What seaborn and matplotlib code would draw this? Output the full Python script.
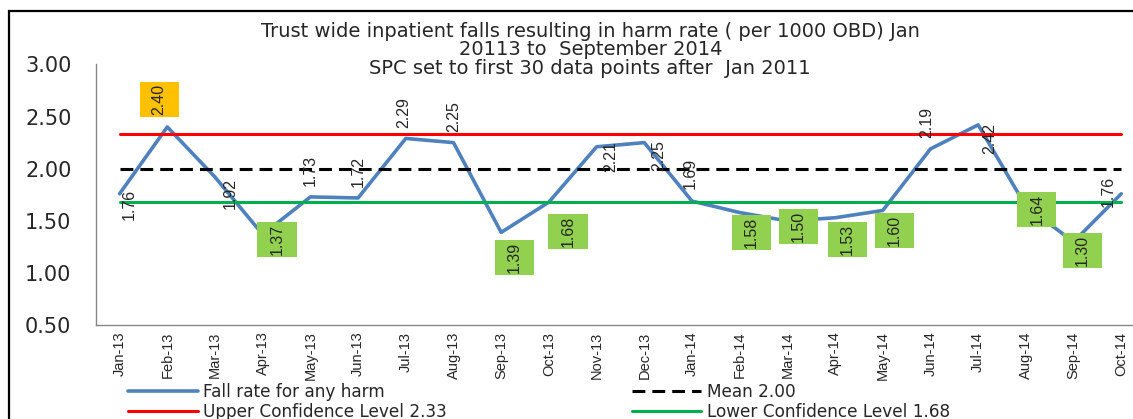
import numpy as np
import pandas as pd
import matplotlib.pyplot as plt
from matplotlib.patches import Rectangle
from matplotlib import font_manager
import seaborn as sns


# Chart data
months = ['Jan-13', 'Feb-13', 'Mar-13', 'Apr-13', 'May-13', 'Jun-13',
          'Jul-13', 'Aug-13', 'Sep-13', 'Oct-13', 'Nov-13', 'Dec-13',
          'Jan-14', 'Feb-14', 'Mar-14', 'Apr-14', 'May-14', 'Jun-14',
          'Jul-14', 'Aug-14', 'Sep-14', 'Oct-14']
fall_rate = [1.76, 2.40, 1.92, 1.37, 1.73, 1.72, 2.29, 2.25, 1.39, 1.68,
             2.21, 2.25, 1.69, 1.58, 1.50, 1.53, 1.60, 2.19, 2.42, 1.64,
             1.30, 1.76]
mean_rate = 2.00
upper_cl = 2.33
lower_cl = 1.68

# Where each data label sits relative to its point, and its highlight box
label_dx = [0.21, -0.17, 0.32, 0.30, 0.00, 0.00, -0.05, 0.00, 0.27, 0.40,
            0.30, 0.31, -0.04, 0.24, 0.23, 0.26, 0.24, -0.07, 0.24, 0.23,
            0.18, -0.28]
label_dy = [-0.10, 0.26, -0.16, -0.05, 0.25, 0.25, 0.25, 0.25, -0.24, -0.28,
            -0.09, -0.12, 0.26, -0.19, -0.05, -0.21, -0.19, 0.25, -0.13, -0.03,
            -0.08, 0.02]
orange = '#ffc000'
lime = '#92d050'
label_box = [None, orange, None, lime, None, None, None, None, lime, lime,
             None, None, None, lime, lime, lime, lime, None, None, lime,
             lime, None]

title = ('Trust wide inpatient falls resulting in harm rate ( per 1000 OBD) Jan\n'
         '20113 to  September 2014\n'
         'SPC set to first 30 data points after  Jan 2011')

# Fonts
sns.set_style('white')
plt.rcParams['font.family'] = ['DejaVu Sans']
installed = {f.name for f in font_manager.fontManager.ttflist}
if 'Liberation Sans Narrow' in installed:
    label_font, label_size = 'Liberation Sans Narrow', 13
else:
    label_font, label_size = 'Liberation Sans', 11.5
tick_font = 'Liberation Sans' if 'Liberation Sans' in installed else 'DejaVu Sans'

# Figure and axes (the plot runs past the right edge like the original crop)
fig = plt.figure(figsize=(11.33, 4.19), dpi=100)
ax = fig.add_axes([0.0845, 0.2236, 0.9262, 0.6229])

df = pd.DataFrame({'month': months, 'rate': fall_rate})
n = len(months)

sns.lineplot(data=df, x='month', y='rate', color='#4f81bd', lw=2.6,
             ax=ax, label='Fall rate for any harm', zorder=2)
sns.lineplot(x=months, y=[mean_rate] * n, color='black', lw=2.2,
             linestyle=(0, (4.2, 2.3)), ax=ax,
             label='Mean %.2f' % mean_rate, zorder=3)
sns.lineplot(x=months, y=[upper_cl] * n, color='#ff0000', lw=2.2, ax=ax,
             label='Upper Confidence Level %.2f' % upper_cl, zorder=3)
sns.lineplot(x=months, y=[lower_cl] * n, color='#00b050', lw=2.2, ax=ax,
             label='Lower Confidence Level %.2f' % lower_cl, zorder=3)

handles, labels = ax.get_legend_handles_labels()
if ax.get_legend() is not None:
    ax.get_legend().remove()

# Data labels
for i, v in enumerate(fall_rate):
    cx = i + label_dx[i]
    cy = v + label_dy[i]
    if label_box[i] is not None:
        ax.add_patch(Rectangle((cx - 0.41, cy - 0.1675), 0.82, 0.335,
                               facecolor=label_box[i], edgecolor='none',
                               zorder=4))
    ax.text(cx, cy, '%.2f' % v, rotation=90, ha='center', va='center',
            family=label_font, fontsize=label_size, zorder=5)

# Axes styling
ax.set_xlim(-0.5, n - 0.5)
ax.set_ylim(0.5, 3.0)
ax.set_xlabel('')
ax.set_ylabel('')
yticks = np.arange(0.5, 3.01, 0.5)
ax.set_yticks(yticks, labels=['%.2f' % t for t in yticks])
ax.set_xticks(np.arange(-0.5, n, 1), labels=[])
ax.set_xticks(np.arange(n), labels=months, minor=True)
ax.tick_params(axis='x', which='minor', length=0, pad=4.5, rotation=90,
               labelsize=10.5, labelfontfamily=tick_font)
ax.tick_params(axis='x', which='major', length=3.5, width=1, color='#868686')
ax.tick_params(axis='y', length=6.5, width=1, color='#868686',
               labelsize=15, pad=11)
for side in ['top', 'right']:
    ax.spines[side].set_visible(False)
for side in ['left', 'bottom']:
    ax.spines[side].set_color('#868686')
    ax.spines[side].set_linewidth(1)
ax.grid(False)

# Title
fig.text(0.521, 1 - 22 / 419, title, ha='center', va='top',
         fontsize=14, linespacing=0.95)

# Legend in two columns, order matching the original rows
order = [0, 2, 1, 3]
fig.legend([handles[k] for k in order], [labels[k] for k in order],
           ncol=2, loc='upper left', bbox_to_anchor=(0.113, 1 - 383 / 419),
           frameon=False, fontsize=12.2, handlelength=4.1,
           handletextpad=0.35, columnspacing=10.9, labelspacing=0.12,
           borderpad=0, borderaxespad=0)

# Outer chart border
fig.add_artist(Rectangle((9 / 1133, -0.5), 2, 0.9737 + 0.5,
                         transform=fig.transFigure, fill=False,
                         edgecolor='black', lw=1.6))

fig.savefig('out.png', dpi=100)
